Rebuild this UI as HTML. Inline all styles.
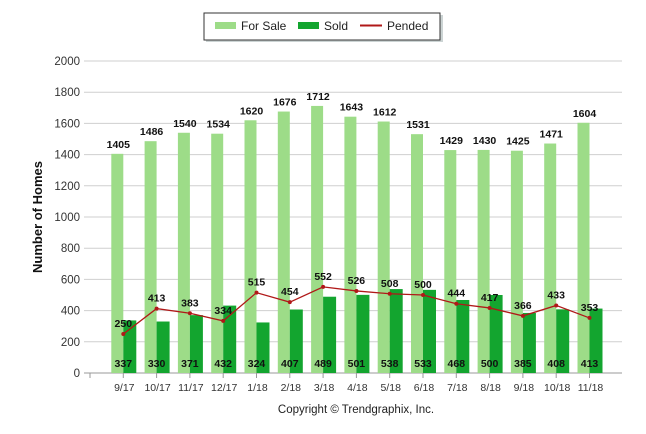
<!DOCTYPE html>
<html><head><meta charset="utf-8"><style>
body{margin:0;background:#fff;width:646px;height:434px;overflow:hidden}
svg{display:block;font-family:"Liberation Sans",sans-serif}
.v{font-family:"Liberation Sans Narrow","Liberation Sans",sans-serif;font-weight:bold;font-size:10.5px;fill:#111}
</style></head><body>
<svg id="chart" width="646" height="434">
<g>
<rect x="206" y="15" width="237" height="27" fill="#9aa" opacity="0.5"/>
<rect x="204" y="13" width="236" height="27" fill="#fff" stroke="#333" stroke-width="1"/>
<rect x="215" y="22" width="21" height="7" fill="#9ddc88"/>
<text x="241" y="30" font-size="12" fill="#222">For Sale</text>
<rect x="298" y="22" width="21" height="7" fill="#13a52f"/>
<text x="324" y="30" font-size="12" fill="#222">Sold</text>
<line x1="360" y1="25.5" x2="382" y2="25.5" stroke="#b01818" stroke-width="2"/>
<text x="387" y="30" font-size="12" fill="#222">Pended</text>
</g>
<text transform="translate(42,217) rotate(-90)" text-anchor="middle" font-size="13" font-weight="bold" fill="#111">Number of Homes</text>
<text x="356" y="413" text-anchor="middle" font-size="11.5" fill="#222">Copyright © Trendgraphix, Inc.</text>
<g id="grid"></g><g id="bars"></g><g id="line"></g><g id="labels"></g>
</svg>
<script>
const categories=["9/17","10/17","11/17","12/17","1/18","2/18","3/18","4/18","5/18","6/18","7/18","8/18","9/18","10/18","11/18"];
const forSale=[1405,1486,1540,1534,1620,1676,1712,1643,1612,1531,1429,1430,1425,1471,1604];
const sold=[337,330,371,432,324,407,489,501,538,533,468,500,385,408,413];
const pended=[250,413,383,334,515,454,552,526,508,500,444,417,366,433,353];
const yTicks=[0,200,400,600,800,1000,1200,1400,1600,1800,2000];
const NS="http://www.w3.org/2000/svg";
const y0=373,yTop=61,yMax=2000;
function y(v){return y0-(v/yMax)*(y0-yTop);}
const step=33.3;
function x(i){return 123.3+i*step;}
function mk(tag,attrs,parent,txt){const e=document.createElementNS(NS,tag);for(const k in attrs)e.setAttribute(k,attrs[k]);if(txt!=null)e.textContent=txt;document.getElementById(parent).appendChild(e);return e;}
yTicks.forEach(t=>{
 const l=mk("line",{x1:84,x2:622,y1:y(t),y2:y(t),stroke:t===0?"#999":"#cfcfcf","stroke-width":1},"grid");
 
 
 const tx=mk("text",{x:80,y:y(t)+4,"text-anchor":"end","font-size":"11.5",fill:"#333"},"grid",t);
 
 
});
for(let i=0;i<=categories.length;i++){
 const tk=mk("line",{x1:90+i*step,x2:90+i*step,y1:y0,y2:y0+5,stroke:"#999"},"grid");
 
 
}
categories.forEach((c,i)=>{
 const cx=x(i);
 const b1=mk("rect",{x:cx-12,y:y(forSale[i]),width:12,height:y0-y(forSale[i]),fill:"#9ddc88"},"bars");
 
 
 const b2=mk("rect",{x:cx,y:y(sold[i]),width:13,height:y0-y(sold[i]),fill:"#13a52f"},"bars");
 
 
 const xl=mk("text",{x:cx+1,y:391,"text-anchor":"middle","font-size":"10.5",fill:"#333"},"labels",c);
 
 
 const l1=mk("text",{x:cx-5,y:y(forSale[i])-6,"text-anchor":"middle",class:"v"},"labels",forSale[i]);
 
 
 const l2=mk("text",{x:cx,y:367,"text-anchor":"middle",class:"v"},"labels",sold[i]);
 
 
 const l3=mk("text",{x:cx,y:y(pended[i])-7,"text-anchor":"middle",class:"v"},"labels",pended[i]);
 
 
});
const pts=pended.map((v,i)=>x(i)+","+y(v)).join(" ");
const pl=mk("polyline",{points:pts,fill:"none",stroke:"#b01818","stroke-width":1.3},"line");


pended.forEach((v,i)=>{
 const d=mk("circle",{cx:x(i),cy:y(v),r:2,fill:"#b01818"},"line");
 
 
});
</script>
</body></html>
